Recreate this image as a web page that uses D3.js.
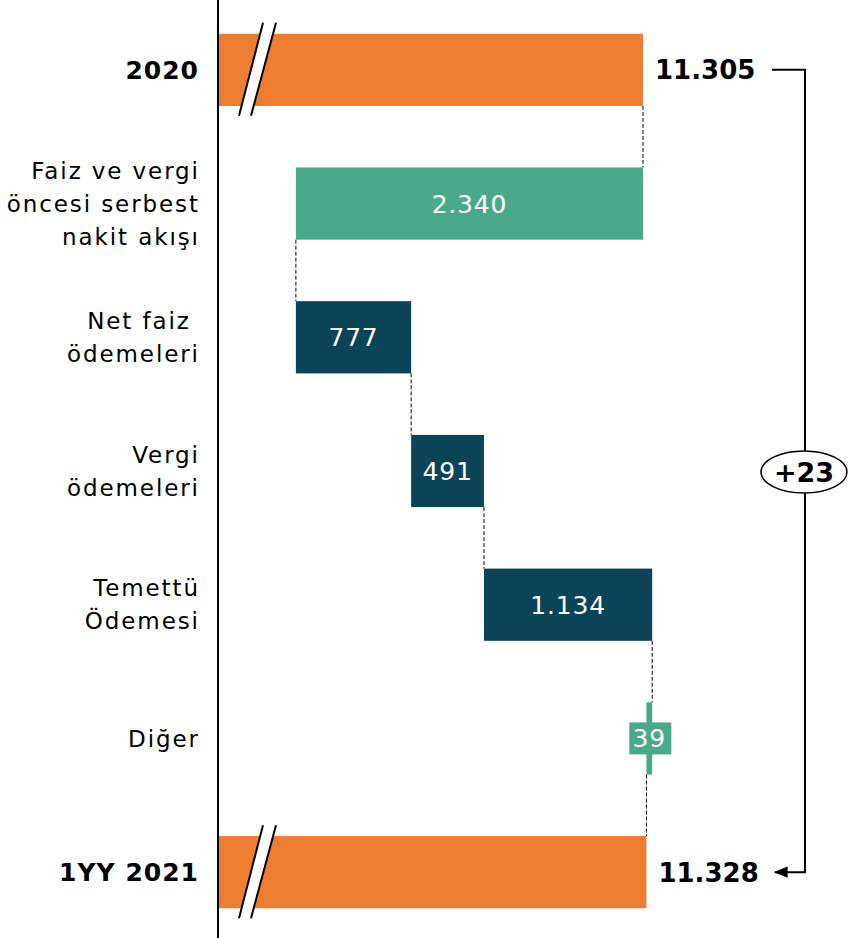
<!DOCTYPE html>
<html lang="tr">
<head>
  <meta charset="UTF-8">
  <title>Net borç köprüsü</title>
  <script src="https://d3js.org/d3.v7.min.js"></script>
  <style>
    body { margin: 0; background: #fff; }
    svg { display: block; font-family: 'DejaVu Sans', Verdana, sans-serif; }
  </style>
</head>
<body>
  <svg id="chart" width="848" height="938"></svg>

  <script>
    // category labels, one array per line
    const categories = ["2020", "FCF", "Faiz", "Vergi", "Temettu", "Diger", "1YY 2021"];
    const labelLines = [
      ["2020"],
      ["Faiz ve vergi", "öncesi serbest", "nakit akışı"],
      ["Net faiz ", "ödemeleri"],
      ["Vergi", "ödemeleri"],
      ["Temettü", "Ödemesi"],
      ["Diğer"],
      ["1YY 2021"]
    ];
    // change in net debt (totals are given as absolute values)
    const values = [11305, -2340, 777, 491, 1134, -39, 11328];
    const kinds = ["total", "down", "up", "up", "up", "down", "total"];
    const valueLabels = ["11.305", "2.340", "777", "491", "1.134", "39", "11.328"];
    const changeLabel = "+23";

    const colors = { total: "#ED7D31", down: "#4AA98A", up: "#0B4457" };

    const W = 848, H = 938;
    const axisX = 218;

    // running start/end for each bar
    let run = 0;
    const bars = values.map((v, i) => {
      let b;
      if (kinds[i] === "total") { b = { x0: null, x1: v }; run = v; }
      else { const s = run; run = run + v; b = { x0: s, x1: run }; }
      return { key: categories[i], kind: kinds[i], lines: labelLines[i], label: valueLabels[i], ...b };
    });

    const x = d3.scaleLinear().domain([8440, 11305]).range([axisX, 643]);
    const y = d3.scaleBand().domain(categories).range([3, 939])
      .paddingInner(0.46).paddingOuter(0.23);
    const bh = y.bandwidth();

    const svg = d3.select("#chart");

    // bars
    svg.append("g").selectAll("rect")
      .data(bars)
      .join("rect")
      .attr("x", d => d.kind === "total" ? axisX : x(Math.min(d.x0, d.x1)))
      .attr("width", d => d.kind === "total" ? x(d.x1) - axisX : Math.abs(x(d.x1) - x(d.x0)))
      .attr("y", d => y(d.key))
      .attr("height", bh)
      .attr("fill", d => colors[d.kind]);

    // dashed connectors between bars
    const conn = [];
    for (let i = 0; i < bars.length - 1; i++) {
      const end = bars[i].x1;
      conn.push({ xv: end, y0: y(bars[i].key) + bh, y1: y(bars[i + 1].key) });
    }
    svg.append("g").selectAll("line")
      .data(conn)
      .join("line")
      .attr("x1", d => x(d.xv)).attr("x2", d => x(d.xv))
      .attr("y1", d => d.y0).attr("y2", d => d.y1)
      .attr("stroke", "#000").attr("stroke-width", 1)
      .attr("stroke-dasharray", "4,2");

    // axis break marks on the totals
    const brk = svg.append("g").selectAll("g")
      .data(bars.filter(d => d.kind === "total"))
      .join("g")
      .attr("transform", d => `translate(0,${y(d.key) + bh / 2})`);
    brk.append("polygon")
      .attr("points", "263,-47 276,-47 251,46 239,46")
      .attr("fill", "#fff");
    brk.append("line").attr("x1", 263).attr("y1", -47).attr("x2", 239).attr("y2", 46)
      .attr("stroke", "#000").attr("stroke-width", 2);
    brk.append("line").attr("x1", 276).attr("y1", -47).attr("x2", 251).attr("y2", 46)
      .attr("stroke", "#000").attr("stroke-width", 2);

    // vertical axis line
    svg.append("line")
      .attr("x1", axisX).attr("x2", axisX).attr("y1", 0).attr("y2", H)
      .attr("stroke", "#000").attr("stroke-width", 2);

    // category labels (Verdana-like spacing)
    const lab = svg.append("g").selectAll("text")
      .data(bars)
      .join("text")
      .attr("text-anchor", "end")
      .attr("font-size", d => d.kind === "total" ? 25 : 23)
      .attr("font-weight", d => d.kind === "total" ? "bold" : "normal")
      .attr("letter-spacing", d => d.kind === "total" ? 1 : 1.9)
      .attr("fill", "#000");
    lab.each(function (d) {
      const n = d.lines.length, lh = 33;
      const ls = d.kind === "total" ? 1 : 1.9;
      d3.select(this).selectAll("tspan")
        .data(d.lines)
        .join("tspan")
        .attr("x", 198 + ls)
        .attr("y", (t, j) => y(d.key) + bh / 2 + (j - (n - 1) / 2) * lh)
        .attr("dy", "0.36em")
        .text(t => t);
    });

    // value labels inside the delta bars
    const deltas = bars.filter(d => d.kind !== "total");
    const dl = svg.append("g").selectAll("g")
      .data(deltas)
      .join("g")
      .attr("transform", d => `translate(${(x(d.x0) + x(d.x1)) / 2},${y(d.key) + bh / 2})`);
    dl.filter(d => Math.abs(x(d.x1) - x(d.x0)) < 40)
      .append("rect")
      .attr("x", -20).attr("y", -16).attr("width", 42).attr("height", 32)
      .attr("fill", d => colors[d.kind]);
    dl.append("text")
      .attr("text-anchor", "middle")
      .attr("dy", "0.36em")
      .attr("font-size", 25)
      .attr("letter-spacing", 0.8)
      .attr("fill", "#fff")
      .text(d => d.label);

    // totals to the right of their bars
    const totals = bars.filter(d => d.kind === "total");
    svg.append("g").selectAll("text")
      .data(totals)
      .join("text")
      .attr("x", d => x(d.x1) + 12)
      .attr("y", d => y(d.key) + bh / 2)
      .attr("dy", "0.36em")
      .attr("font-size", 26)
      .attr("font-weight", "bold")
      .text(d => d.label);

    // bracket with change
    const yTop = y(totals[0].key) + bh / 2;
    const yBot = y(totals[1].key) + bh / 2;
    const bx = 805;
    svg.append("defs").append("marker")
      .attr("id", "arr").attr("viewBox", "0 0 10 10")
      .attr("refX", 9).attr("refY", 5)
      .attr("markerWidth", 7).attr("markerHeight", 7)
      .attr("orient", "auto")
      .append("path").attr("d", "M0,1 L10,5 L0,9 Z").attr("fill", "#000");
    svg.append("path")
      .attr("d", `M772,${yTop} H${bx} V${yBot} H775`)
      .attr("fill", "none").attr("stroke", "#000").attr("stroke-width", 2)
      .attr("marker-end", "url(#arr)");
    const midY = 472;
    svg.append("ellipse")
      .attr("cx", 804).attr("cy", midY).attr("rx", 43).attr("ry", 21)
      .attr("fill", "#fff").attr("stroke", "#000").attr("stroke-width", 1.5);
    svg.append("text")
      .attr("x", 804).attr("y", midY).attr("dy", "0.36em")
      .attr("text-anchor", "middle")
      .attr("font-size", 27).attr("font-weight", "bold")
      .text(changeLabel);
  </script>
</body>
</html>
